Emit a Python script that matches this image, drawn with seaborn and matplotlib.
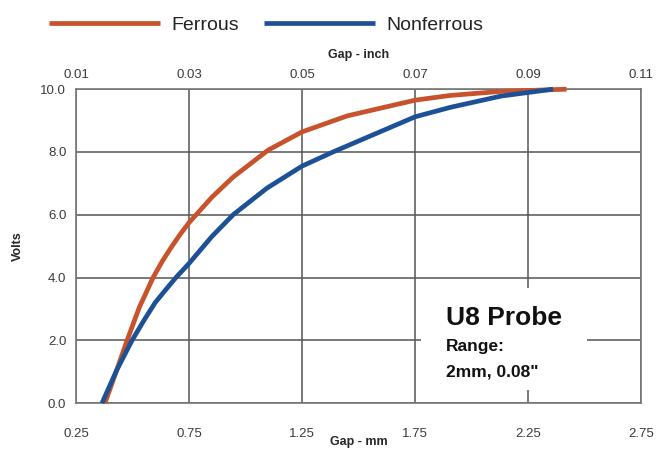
import numpy as np
import pandas as pd
import matplotlib.pyplot as plt
from matplotlib.patches import Rectangle
import seaborn as sns

# readings, gap in mm vs output volts
ferrous_mm = [0.378, 0.43, 0.476, 0.53, 0.591, 0.63, 0.67, 0.71, 0.75, 0.85, 0.945, 1.10, 1.25, 1.45, 1.75, 1.905, 2.13, 2.42]
ferrous_v = [0.0, 1.05, 2.0, 3.05, 4.0, 4.5, 4.95, 5.37, 5.75, 6.55, 7.2, 8.06, 8.64, 9.15, 9.65, 9.8, 9.93, 10.0]
nonferrous_mm = [0.365, 0.43, 0.498, 0.55, 0.60, 0.65, 0.692, 0.75, 0.85, 0.945, 1.095, 1.25, 1.387, 1.5, 1.75, 1.905, 2.13, 2.36]
nonferrous_v = [0.0, 1.05, 2.0, 2.63, 3.2, 3.64, 4.0, 4.45, 5.3, 6.0, 6.85, 7.55, 8.0, 8.35, 9.12, 9.42, 9.78, 10.0]

mm_ticks = [0.25, 0.75, 1.25, 1.75, 2.25, 2.75]
inch_ticks = [0.01, 0.03, 0.05, 0.07, 0.09, 0.11]
volt_ticks = [0.0, 2.0, 4.0, 6.0, 8.0, 10.0]

df = pd.concat([
    pd.DataFrame({'gap': ferrous_mm, 'volts': ferrous_v, 'series': 'Ferrous'}),
    pd.DataFrame({'gap': nonferrous_mm, 'volts': nonferrous_v, 'series': 'Nonferrous'}),
])

sns.set_style('white')
plt.rcParams['font.family'] = ['Liberation Sans', 'DejaVu Sans']

fig = plt.figure(figsize=(6.61, 4.55), dpi=100)
ax = fig.add_axes([0.115, 0.114, 0.855, 0.690])

palette = {'Ferrous': '#c8522c', 'Nonferrous': '#1d5196'}
sns.lineplot(data=df, x='gap', y='volts', hue='series', palette=palette,
             linewidth=3.4, ax=ax, sort=True, estimator=None, zorder=3,
             solid_joinstyle='round', solid_capstyle='butt')
for ln in ax.lines:
    ln.set_clip_on(False)

ax.set_xlim(0.25, 2.75)
ax.set_ylim(0, 10)
ax.set_xticks(mm_ticks)
ax.set_yticks(volt_ticks)
ax.set_xticklabels([f'{t:.2f}' for t in mm_ticks])
ax.set_yticklabels([f'{t:.1f}' for t in volt_ticks])
ax.tick_params(axis='x', length=0, labelsize=9.5, colors='#3a3a3a', pad=18)
ax.tick_params(axis='y', length=0, labelsize=9.5, colors='#3a3a3a', pad=7)
ax.grid(True, color='#555555', linewidth=1.1)
ax.set_axisbelow(True)
for s in ax.spines.values():
    s.set_color('#777777')
    s.set_linewidth(1.2)

ax.set_xlabel('Gap - mm', fontsize=9, fontweight='bold', labelpad=-3)
ax.set_ylabel('Volts', fontsize=9, fontweight='bold', labelpad=12)

top = ax.secondary_xaxis('top', functions=(lambda m: 0.01 + (m - 0.25) * 0.04,
                                            lambda i: 0.25 + (i - 0.01) / 0.04))
top.set_xticks(inch_ticks)
top.set_xticklabels([f'{t:.2f}' for t in inch_ticks])
top.tick_params(length=0, labelsize=9.5, colors='#3a3a3a', pad=6)
top.spines['top'].set_visible(False)
top.set_xlabel('Gap - inch', fontsize=9, fontweight='bold', labelpad=8)

# white panel behind the probe label
ax.add_patch(Rectangle((0.611, 0.041), 0.293, 0.325, transform=ax.transAxes,
                       facecolor='white', edgecolor='none', zorder=2))
ax.text(0.655, 0.248, 'U8 Probe', transform=ax.transAxes, fontsize=19,
        fontweight='bold', color='#111111', zorder=4)
ax.text(0.655, 0.166, 'Range:', transform=ax.transAxes, fontsize=12.5,
        fontweight='bold', color='#111111', zorder=4)
ax.text(0.655, 0.086, '2mm, 0.08"', transform=ax.transAxes, fontsize=12.5,
        fontweight='bold', color='#111111', zorder=4)

handles, labels = ax.get_legend_handles_labels()
ax.get_legend().remove()
fig.legend(handles, labels, loc='center left', bbox_to_anchor=(0.063, 0.945),
           ncol=2, frameon=False, fontsize=14, handlelength=5.7,
           handletextpad=0.57, columnspacing=1.3, borderaxespad=0,
           labelcolor='#222222')

plt.savefig('out.png', dpi=100)
